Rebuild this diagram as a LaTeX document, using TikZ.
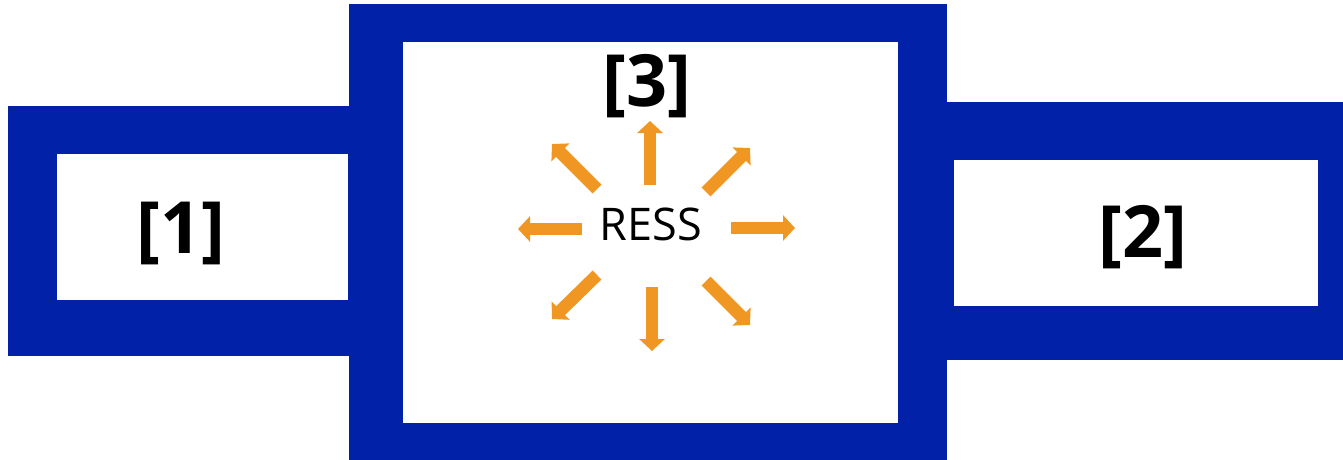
\documentclass[tikz,border=0pt]{standalone}
\usepackage{fontspec}
\setmainfont{Open Sans}
\usetikzlibrary{arrows.meta}
\definecolor{frameblue}{RGB}{0,33,168}
\definecolor{rayorange}{RGB}{240,150,34}
\tikzset{
  frame/.style={fill=frameblue, draw=none},
  hole/.style={fill=white, draw=none},
  tag/.style={inner sep=0pt, anchor=base, font=\fontsize{72}{86}\selectfont\bfseries},
  ray/.style={draw=rayorange, line width=12.5pt,
    -{Triangle[width=25pt,length=12pt]}, rayorange}
}
\begin{document}
\begin{tikzpicture}[x=1pt,y=-1pt]
\useasboundingbox (0,0) rectangle (1343,460);
% outer frames
\fill[frame] (8,106) rectangle (349,356);
\fill[frame] (947,102) rectangle (1343,360);
\fill[frame] (349,4) rectangle (947,460);
% openings
\fill[hole] (57,154) rectangle (348,300);
\fill[hole] (954,160) rectangle (1318,306);
\fill[hole] (403,42) rectangle (898,423);
% labels
\node[tag] (l1) at (181,253) {[1]};
\node[tag] (l2) at (1143,257) {[2]};
\node[tag] (l3) at (647,106) {[3]};
\node[inner sep=0pt, anchor=base, font=\fontsize{45}{54}\selectfont] (ress) at (651,240) {RESS};
% radiating arrows
\coordinate (nS) at (650,185); \coordinate (nE) at (650,121);
\coordinate (sS) at (652,287); \coordinate (sE) at (652,351);
\coordinate (wS) at (582,229); \coordinate (wE) at (518,229);
\coordinate (eS) at (731,228); \coordinate (eE) at (795,228);
\coordinate (nwS) at (597,189); \coordinate (nwE) at (552,144);
\coordinate (neS) at (706,192); \coordinate (neE) at (750,148);
\coordinate (swS) at (597,275); \coordinate (swE) at (552,319);
\coordinate (seS) at (706,281); \coordinate (seE) at (750,325);
\foreach \d in {n,s,w,e,nw,ne,sw,se}
  \draw[ray] (\d S) -- (\d E);
\end{tikzpicture}
\end{document}
